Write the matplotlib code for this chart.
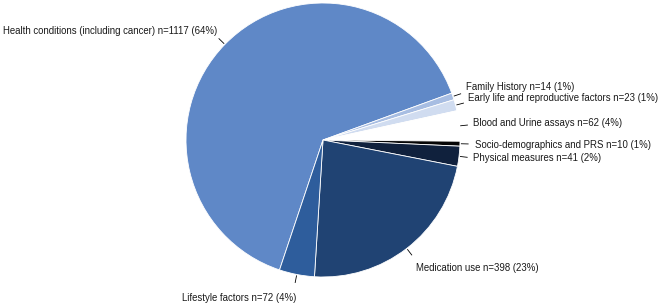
import numpy as np
import matplotlib
matplotlib.use("Agg")
import matplotlib.pyplot as plt

plt.rcParams['font.family'] = ['Liberation Sans', 'DejaVu Sans']

# data, in drawing order (clockwise)
categories = ["Health conditions (including cancer)", "Family History",
              "Early life and reproductive factors", "Blood and Urine assays",
              "Socio-demographics and PRS", "Physical measures",
              "Medication use", "Lifestyle factors"]
counts = [1117, 14, 23, 62, 10, 41, 398, 72]
percents = [64, 1, 1, 4, 1, 2, 23, 4]
colors = ["#5f88c7", "#a7bde2", "#d0dcf0", "#ffffff",
          "#050505", "#10213d", "#204373", "#2e5d9c"]

# label placement (pixels, left edge / vertical centre)
label_pos = [(3, 31), (466, 87), (468, 98), (473, 123),
             (475, 145), (473, 158), (416, 268), (182, 298)]

W, H = 660, 307
cx, cy, r = 323, 140, 137

fig = plt.figure(figsize=(6.6, 3.07), dpi=100)
ax = fig.add_axes([0, 0, 1, 1])

wedges, _ = ax.pie(counts, colors=colors, startangle=251.5, counterclock=False,
                   center=(cx, H - cy), radius=r, frame=True,
                   wedgeprops=dict(edgecolor='white', linewidth=0.6))
ax.set_xlim(0, W)
ax.set_ylim(0, H)
ax.axis('off')

for w, name, n, p, (tx, ty) in zip(wedges, categories, counts, percents, label_pos):
    mid = np.deg2rad((w.theta1 + w.theta2) / 2)
    x0 = cx + r * 1.01 * np.cos(mid)
    y0 = (H - cy) + r * 1.01 * np.sin(mid)
    x1 = cx + r * 1.06 * np.cos(mid)
    y1 = (H - cy) + r * 1.06 * np.sin(mid)
    ax.plot([x0, x1], [y0, y1], color='black', lw=0.6)
    ax.text(tx, H - ty, f"{name} n={n} ({p}%)", ha='left', va='center',
            fontsize=6.9, color='#1a1a1a')

fig.savefig("out.png", dpi=100)
